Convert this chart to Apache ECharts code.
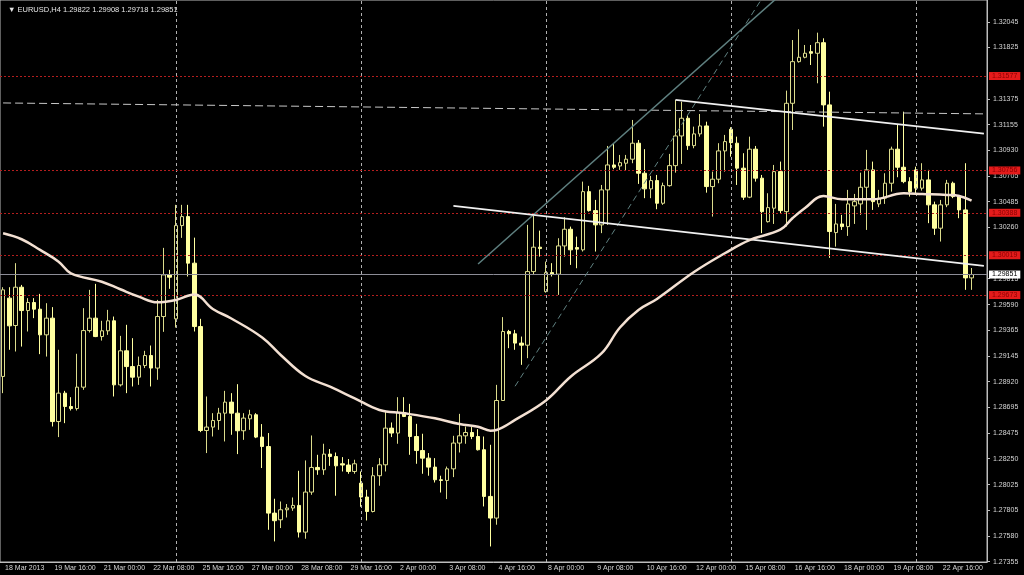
<!DOCTYPE html>
<html>
<head>
<meta charset="utf-8">
<title>EURUSD,H4</title>
<script src="https://cdn.jsdelivr.net/npm/echarts@6.0.0/dist/echarts.min.js"></script>
<style>
html, body { margin: 0; padding: 0; background: #000; }
#chart { width: 1024px; height: 575px; }
</style>
</head>
<body>
<div id="chart"></div>
<script>
// H4 bars, 18 Mar 2013 08:00 .. 23 Apr 2013 12:00 (two empty slots on the right)
const symbolName = 'EURUSD,H4'
const firstLabel = '18 Mar 2013'
const tradingDays = ['18 Mar', '19 Mar', '20 Mar', '21 Mar', '22 Mar', '25 Mar', '26 Mar', '27 Mar', '28 Mar', '29 Mar',
  '1 Apr', '2 Apr', '3 Apr', '4 Apr', '5 Apr', '8 Apr', '9 Apr', '10 Apr', '11 Apr', '12 Apr',
  '15 Apr', '16 Apr', '17 Apr', '18 Apr', '19 Apr', '22 Apr', '23 Apr']
const barHours = ['00:00', '04:00', '08:00', '12:00', '16:00', '20:00']

const opens = [
  1.28965, 1.29646, 1.29408, 1.29741, 1.29538, 1.29608, 1.29550, 1.29327, 1.29472, 1.28573,
  1.28820, 1.28704, 1.28686, 1.28872, 1.29364, 1.29472, 1.29312, 1.29362, 1.29449, 1.28892,
  1.29188, 1.29051, 1.28959, 1.29060, 1.29147, 1.29038, 1.29486, 1.29848, 1.29466, 1.30277,
  1.30355, 1.29950, 1.29399, 1.28495, 1.28525, 1.28582, 1.28646, 1.28742, 1.28646, 1.28493,
  1.28597, 1.28632, 1.28438, 1.28356, 1.27777, 1.27719, 1.27806, 1.27821, 1.27844, 1.27612,
  1.27960, 1.28174, 1.28154, 1.28290, 1.28269, 1.28206, 1.28195, 1.28139, 1.28038, 1.27917,
  1.27791, 1.28102, 1.28197, 1.28516, 1.28473, 1.28652, 1.28617, 1.28443, 1.28321, 1.28255,
  1.28177, 1.28067, 1.28061, 1.28162, 1.28386, 1.28449, 1.28478, 1.28443, 1.28328, 1.27922,
  1.27734, 1.28756, 1.29356, 1.29336, 1.29255, 1.29237, 1.29877, 1.30089, 1.29703, 1.29868,
  1.29854, 1.30100, 1.30245, 1.30086, 1.30066, 1.30572, 1.30407, 1.30283, 1.30587, 1.30804,
  1.30795, 1.30819, 1.30854, 1.30993, 1.30732, 1.30596, 1.30668, 1.30471, 1.30624, 1.30798,
  1.31056, 1.31210, 1.30972, 1.31074, 1.31143, 1.30616, 1.30680, 1.30926, 1.31114, 1.30993,
  1.30776, 1.30524, 1.30941, 1.30689, 1.30311, 1.30428, 1.30746, 1.30398, 1.31340, 1.31702,
  1.31740, 1.31789, 1.31775, 1.31867, 1.31326, 1.30216, 1.30291, 1.30268, 1.30448, 1.30465,
  1.30610, 1.30761, 1.30465, 1.30515, 1.30645, 1.30941, 1.30784, 1.30659, 1.30761, 1.30602,
  1.30674, 1.30457, 1.30254, 1.30457, 1.30645, 1.30529, 1.30413, 1.29822
]
const highs = [
  1.29741, 1.29741, 1.29950, 1.29761, 1.29646, 1.29646, 1.29683, 1.29602, 1.29568, 1.29197,
  1.28840, 1.28785, 1.29162, 1.29559, 1.29718, 1.29770, 1.29449, 1.29544, 1.29486, 1.29318,
  1.29414, 1.29298, 1.29138, 1.29188, 1.29234, 1.29631, 1.30083, 1.29892, 1.30457, 1.30457,
  1.30457, 1.30172, 1.29466, 1.28791, 1.28646, 1.28692, 1.28840, 1.28820, 1.28898, 1.28646,
  1.28675, 1.28646, 1.28551, 1.28473, 1.27902, 1.27878, 1.27856, 1.27913, 1.28145, 1.28235,
  1.28452, 1.28284, 1.28380, 1.28334, 1.28304, 1.28264, 1.28247, 1.28241, 1.28139, 1.27980,
  1.28177, 1.28255, 1.28660, 1.28565, 1.28785, 1.28785, 1.28727, 1.28553, 1.28467, 1.28299,
  1.28255, 1.28102, 1.28182, 1.28449, 1.28640, 1.28530, 1.28525, 1.28507, 1.28443, 1.28371,
  1.28892, 1.29481, 1.29370, 1.29370, 1.29312, 1.30283, 1.30361, 1.30233, 1.29964, 1.29950,
  1.30167, 1.30350, 1.30268, 1.30181, 1.30659, 1.30622, 1.30500, 1.30630, 1.30969, 1.30993,
  1.30891, 1.30891, 1.31195, 1.31021, 1.30941, 1.30709, 1.30717, 1.30650, 1.30900, 1.31369,
  1.31354, 1.31239, 1.31137, 1.31247, 1.31180, 1.30746, 1.30993, 1.31065, 1.31132, 1.31050,
  1.30906, 1.31050, 1.30969, 1.30717, 1.30558, 1.30804, 1.30833, 1.31450, 1.31890, 1.31983,
  1.31847, 1.31847, 1.31954, 1.31905, 1.31441, 1.30465, 1.30370, 1.30587, 1.30552, 1.30737,
  1.30935, 1.30833, 1.30587, 1.30732, 1.30963, 1.31152, 1.31267, 1.30697, 1.30789, 1.30819,
  1.30761, 1.30485, 1.30500, 1.30674, 1.30659, 1.30543, 1.30819, 1.29908
]
const lows = [
  1.28820, 1.29197, 1.29182, 1.29225, 1.29356, 1.29472, 1.29159, 1.29138, 1.28530, 1.28438,
  1.28559, 1.28669, 1.28669, 1.28849, 1.29347, 1.29307, 1.29277, 1.29327, 1.28791, 1.28878,
  1.28820, 1.28878, 1.28892, 1.29038, 1.28878, 1.28936, 1.29353, 1.29727, 1.29390, 1.30170,
  1.29834, 1.29356, 1.28481, 1.28299, 1.28443, 1.28501, 1.28400, 1.28458, 1.28290, 1.28414,
  1.28501, 1.28429, 1.28169, 1.27632, 1.27531, 1.27647, 1.27739, 1.27797, 1.27565, 1.27554,
  1.27936, 1.28110, 1.28110, 1.28188, 1.27928, 1.28139, 1.28119, 1.28119, 1.27832, 1.27713,
  1.27783, 1.28015, 1.28139, 1.28438, 1.28380, 1.28612, 1.28284, 1.28206, 1.28119, 1.28102,
  1.28043, 1.27956, 1.27899, 1.28090, 1.28304, 1.28380, 1.28420, 1.28321, 1.27835, 1.27487,
  1.27676, 1.28753, 1.29211, 1.29197, 1.29066, 1.29124, 1.29848, 1.30007, 1.29694, 1.29834,
  1.29674, 1.30007, 1.29935, 1.29906, 1.30051, 1.30398, 1.30051, 1.30211, 1.30283, 1.30767,
  1.30761, 1.30755, 1.30819, 1.30639, 1.30515, 1.30515, 1.30419, 1.30457, 1.30616, 1.30737,
  1.30813, 1.30935, 1.30949, 1.31050, 1.30563, 1.30355, 1.30645, 1.30746, 1.30876, 1.30630,
  1.30500, 1.30515, 1.30659, 1.30211, 1.30303, 1.30291, 1.30384, 1.30268, 1.31108, 1.31693,
  1.31731, 1.31673, 1.31514, 1.31137, 1.29996, 1.30094, 1.30239, 1.30187, 1.30291, 1.30370,
  1.30239, 1.30413, 1.30437, 1.30465, 1.30572, 1.30697, 1.30645, 1.30529, 1.30543, 1.30581,
  1.30298, 1.30196, 1.30138, 1.30437, 1.30515, 1.30341, 1.29718, 1.29718
]
const closes = [
  1.29718, 1.29405, 1.29741, 1.29538, 1.29608, 1.29550, 1.29327, 1.29472, 1.28573, 1.28820,
  1.28704, 1.28686, 1.28872, 1.29364, 1.29472, 1.29312, 1.29362, 1.29449, 1.28892, 1.29188,
  1.29051, 1.28959, 1.29060, 1.29147, 1.29038, 1.29486, 1.29848, 1.29828, 1.30277, 1.30355,
  1.29950, 1.29399, 1.28495, 1.28525, 1.28582, 1.28646, 1.28742, 1.28646, 1.28493, 1.28603,
  1.28632, 1.28438, 1.28356, 1.27777, 1.27711, 1.27806, 1.27821, 1.27844, 1.27612, 1.27960,
  1.28174, 1.28154, 1.28290, 1.28269, 1.28188, 1.28195, 1.28139, 1.28206, 1.27917, 1.27791,
  1.28102, 1.28197, 1.28516, 1.28473, 1.28652, 1.28617, 1.28443, 1.28321, 1.28255, 1.28177,
  1.28067, 1.28061, 1.28162, 1.28386, 1.28449, 1.28478, 1.28443, 1.28328, 1.27922, 1.27734,
  1.28756, 1.29356, 1.29336, 1.29255, 1.29237, 1.29877, 1.30089, 1.30077, 1.29868, 1.29854,
  1.30100, 1.30245, 1.30066, 1.30072, 1.30572, 1.30407, 1.30283, 1.30587, 1.30804, 1.30784,
  1.30824, 1.30854, 1.30993, 1.30732, 1.30596, 1.30668, 1.30471, 1.30624, 1.30798, 1.31056,
  1.31210, 1.30972, 1.31074, 1.31143, 1.30616, 1.30680, 1.30926, 1.31007, 1.30998, 1.30776,
  1.30524, 1.30941, 1.30689, 1.30398, 1.30433, 1.30746, 1.30407, 1.31340, 1.31702, 1.31740,
  1.31775, 1.31775, 1.31867, 1.31326, 1.30225, 1.30291, 1.30268, 1.30465, 1.30485, 1.30610,
  1.30761, 1.30485, 1.30515, 1.30645, 1.30941, 1.30784, 1.30659, 1.30572, 1.30602, 1.30674,
  1.30457, 1.30254, 1.30457, 1.30645, 1.30529, 1.30413, 1.29822, 1.29851
]

// moving average, read at selected bars
const maIndex = [0, 3, 6, 9, 11, 16, 19, 22, 25, 28, 31, 34, 37, 42, 45, 49, 53, 57, 61, 65, 70, 74, 77, 79, 80,
  83, 88, 92, 97, 100, 103, 106, 112, 117, 121, 126, 128, 130, 133, 136, 141, 146, 149, 153, 155, 157]
const maValue = [1.30210, 1.30158, 1.30065, 1.29963, 1.29862, 1.29789, 1.29723, 1.29659, 1.29610, 1.29630,
  1.29678, 1.29552, 1.29469, 1.29304, 1.29152, 1.28969, 1.28876, 1.28775, 1.28674, 1.28645,
  1.28601, 1.28552, 1.28528, 1.28494, 1.28500, 1.28587, 1.28756, 1.28963, 1.29165, 1.29391,
  1.29543, 1.29639, 1.29873, 1.30036, 1.30151, 1.30241, 1.30343, 1.30430, 1.30534, 1.30505,
  1.30505, 1.30557, 1.30551, 1.30543, 1.30534, 1.30493]

// drawn objects (bar index, price)
const dashedLevelBars = [0, 159]
const dashedLevelPrices = [1.31343, 1.31248]
const channelTopBars = [109, 159]
const channelTopPrices = [1.31369, 1.31077]
const channelBottomBars = [73, 159]
const channelBottomPrices = [1.30449, 1.29926]
const riseSolidBars = [77, 126]
const riseSolidPrices = [1.29943, 1.32282]
const riseDashedBars = [83, 124]
const riseDashedPrices = [1.28880, 1.32334]

const redLevels = [1.31577, 1.30756, 1.30388, 1.30019, 1.29673]
const gridBars = [28, 58, 88, 118, 148]
const yTicks = [1.27355, 1.27580, 1.27805, 1.28025, 1.28250, 1.28475, 1.28695, 1.28920, 1.29145, 1.29365,
  1.29590, 1.29815, 1.30260, 1.30485, 1.30705, 1.30930, 1.31155, 1.31375, 1.31825, 1.32045]
const yMin = 1.27352
const yMax = 1.32238

const barTimes = []
tradingDays.forEach(d => barHours.forEach(h => barTimes.push(d + ' ' + h)))
const categories = barTimes.slice(2)

const last = closes.length - 1
const candleData = opens.map((o, i) => [o, closes[i], lows[i], highs[i]])
const pairs = (xs, ys) => xs.map((x, i) => [x, ys[i]])
const font = 'Liberation Sans, Arial, DejaVu Sans, sans-serif'
const p5 = v => Number(v).toFixed(5)

const trend = (bars, prices, color, width, type) => ({
  type: 'line',
  data: pairs(bars, prices),
  symbol: 'none',
  silent: true,
  z: 5,
  lineStyle: { color: color, width: width, type: type }
})

const chart = echarts.init(document.getElementById('chart'))
chart.setOption({
  backgroundColor: '#000000',
  animation: false,
  title: {
    text: '\u25BC ' + symbolName + ' ' + p5(opens[last]) + ' ' + p5(highs[last]) + ' ' + p5(lows[last]) + ' ' + p5(closes[last]),
    left: 3,
    top: 1,
    textStyle: { color: '#e6e6e6', fontSize: 7.5, fontWeight: 'normal', fontFamily: font }
  },
  grid: {
    left: 0,
    right: 37,
    top: 0,
    bottom: 13,
    show: true,
    backgroundColor: '#000000',
    borderColor: '#bdbdbd',
    borderWidth: 1
  },
  xAxis: {
    type: 'category',
    data: categories,
    boundaryGap: true,
    axisLine: { lineStyle: { color: '#bdbdbd' } },
    axisTick: { interval: 7, alignWithLabel: true, length: 4, lineStyle: { color: '#bdbdbd' } },
    axisLabel: {
      interval: 7,
      align: 'left',
      color: '#d6d6d6',
      fontSize: 7,
      fontFamily: font,
      margin: 3,
      padding: [0, 0, 0, 2],
      formatter: (v, i) => (i === 0 ? firstLabel : v)
    },
    splitLine: { show: false }
  },
  yAxis: {
    type: 'value',
    position: 'right',
    min: yMin,
    max: yMax,
    axisLine: { show: true, lineStyle: { color: '#bdbdbd' } },
    axisTick: { show: true, length: 3, customValues: yTicks, lineStyle: { color: '#bdbdbd' } },
    axisLabel: { customValues: yTicks, formatter: p5, color: '#d6d6d6', fontSize: 7, fontFamily: font, margin: 6 },
    splitLine: { show: false }
  },
  series: [
    {
      name: 'grid',
      type: 'line',
      data: [],
      z: 1,
      silent: true,
      markLine: {
        silent: true,
        symbol: 'none',
        label: { show: false },
        lineStyle: { color: '#b0b0b0', type: [3, 3], width: 1 },
        data: gridBars.map(b => ({ xAxis: b }))
      }
    },
    {
      name: 'levels',
      type: 'line',
      data: [],
      z: 2,
      silent: true,
      markLine: {
        silent: true,
        symbol: 'none',
        precision: 5,
        lineStyle: { color: '#b41e1e', type: [2, 2], width: 1 },
        label: {
          show: true,
          position: 'end',
          distance: 2,
          formatter: p => p5(p.value),
          backgroundColor: '#e41b1b',
          color: '#8a0000',
          fontSize: 7,
          fontFamily: font,
          padding: [1, 3, 0, 3]
        },
        data: redLevels.map(v => ({ yAxis: v }))
      }
    },
    {
      name: symbolName,
      type: 'candlestick',
      data: candleData,
      barWidth: 4,
      z: 3,
      itemStyle: {
        color: '#000000',
        color0: '#ffffa0',
        borderColor: '#dcdc8c',
        borderColor0: '#ffffa0',
        borderWidth: 1
      },
      markLine: {
        silent: true,
        symbol: 'none',
        precision: 5,
        lineStyle: { color: '#8c8c96', type: 'solid', width: 1 },
        label: {
          show: true,
          position: 'end',
          distance: 2,
          formatter: p => p5(p.value),
          backgroundColor: '#ffffff',
          color: '#000000',
          fontSize: 7,
          fontFamily: font,
          padding: [1, 3, 0, 3]
        },
        data: [{ yAxis: closes[last] }]
      }
    },
    trend(dashedLevelBars, dashedLevelPrices, '#c8c8c8', 1, [8, 4]),
    trend(riseSolidBars, riseSolidPrices, '#5f8080', 1.5, 'solid'),
    trend(riseDashedBars, riseDashedPrices, '#5f8080', 1, [6, 4]),
    trend(channelTopBars, channelTopPrices, '#f0f0f0', 1.8, 'solid'),
    trend(channelBottomBars, channelBottomPrices, '#f0f0f0', 1.8, 'solid'),
    {
      name: 'MA',
      type: 'line',
      data: pairs(maIndex, maValue),
      symbol: 'none',
      smooth: 0.4,
      silent: true,
      z: 6,
      lineStyle: { color: '#f3e0d2', width: 2.5 }
    }
  ]
})
</script>
</body>
</html>
